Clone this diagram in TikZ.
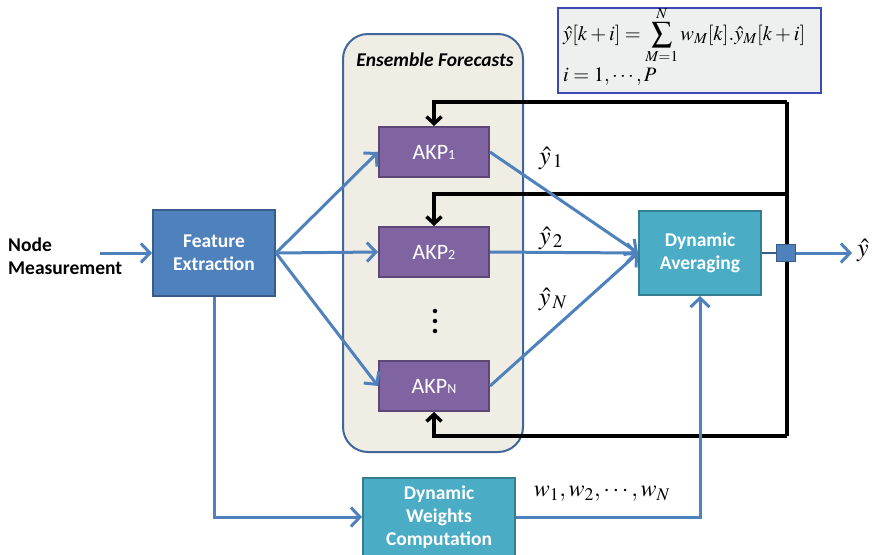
\documentclass[tikz,border=0pt]{standalone}
\usepackage{mathptmx}
\usepackage[no-math]{fontspec}
\setmainfont{Carlito}
\usetikzlibrary{arrows.meta}
\definecolor{lblue}{HTML}{4F81BD}
\definecolor{dblue}{HTML}{385D8A}
\definecolor{teal}{HTML}{4BACC6}
\definecolor{dteal}{HTML}{357D91}
\definecolor{purp}{HTML}{8064A2}
\definecolor{dpurp}{HTML}{5C4776}
\definecolor{ensfill}{HTML}{F0EDE5}
\definecolor{ensline}{HTML}{41679A}
\definecolor{fbox}{HTML}{EEF0F0}
\definecolor{fline}{HTML}{3B4BB5}
\tikzset{
  box/.style={draw, line width=2pt, inner sep=0pt, align=center, text=white,
    font=\fontsize{19.5}{23}\selectfont\bfseries},
  febox/.style={box, fill=lblue, draw=dblue, minimum width=122pt, minimum height=86pt},
  dabox/.style={box, fill=teal, draw=dteal, minimum width=122pt, minimum height=84pt},
  dwbox/.style={box, fill=teal, draw=dteal, minimum width=152pt, minimum height=78pt},
  akp/.style={draw=dpurp, fill=purp, line width=2pt, inner sep=0pt, text=white,
    minimum width=110pt, minimum height=50pt, font=\fontsize{22}{22}\selectfont},
  bar/.style={line width=3pt, draw=lblue},
  barr/.style={bar, -{Straight Barb[length=9pt,width=19pt,line width=3pt]}},
  fb/.style={line width=3.5pt, draw=black},
  fbarr/.style={fb, -{Straight Barb[length=7pt,width=15pt,line width=3.5pt]}},
  lbl/.style={inner sep=0pt, font=\fontsize{26}{26}\selectfont},
}
\newcommand{\subn}[1]{{\fontsize{14}{14}\selectfont #1}}
\begin{document}
\begin{tikzpicture}[x=1pt,y=-1pt]
\useasboundingbox (0,0) rectangle (874,554);
% formula box
\node[draw=fline, fill=fbox, line width=1.6pt, minimum width=263pt, minimum height=85pt, inner sep=0pt] (fbx) at (689.5,50.5) {};
\node[inner sep=0pt, anchor=west, font=\fontsize{20.5}{20.5}\selectfont] (f1) at (563,35) {$\displaystyle \hat{y}[k+i]=\sum_{M=1}^{N} w_M[k].\hat{y}_M[k+i]$};
\node[inner sep=0pt, anchor=base west, font=\fontsize{20.5}{20.5}\selectfont] (f2) at (563,81) {$i=1,\cdots,P$};
% ensemble container
\node[draw=ensline, fill=ensfill, line width=2pt, rounded corners=25pt, minimum width=180pt, minimum height=418pt, inner sep=0pt] (ens) at (433,243) {};
\node[inner sep=0pt, font=\fontsize{19.5}{19.5}\selectfont\bfseries\itshape] (enst) at (435,60) {Ensemble Forecasts};
% AKP boxes
\node[akp] (a1) at (434,152) {AKP\subn{1}};
\node[akp] (a2) at (434,252) {AKP\subn{2}};
\node[akp] (an) at (434,386) {AKP\subn{N}};
\node[inner sep=0pt, align=center, font=\fontsize{30}{10}\selectfont\bfseries] (dots) at (435,321) {.\\.\\.};
% main boxes
\node[febox] (fe) at (214,253) {Feature\\Extraction};
\node[dabox] (da) at (700,253) {Dynamic\\Averaging};
\node[dwbox] (dw) at (439,517) {Dynamic\\Weights\\Computation};
\node[anchor=west, align=left, inner sep=0pt, font=\fontsize{19.5}{23}\selectfont\bfseries] (nm) at (8,256) {Node\\Measurement};
\coordinate (nmend) at (100,253);
% feedback lines
\coordinate (t1) at (787,102);
\coordinate (t2) at (787,194);
\coordinate (t3) at (787,436);
\draw[fb] (t1) -- (t3);
\draw[fbarr] (t1) -| (a1.north);
\draw[fbarr] (t2) -| (a2.north);
\draw[fbarr] (t3) -| (an.south);
% junction and output
\node[draw=dblue, fill=lblue, line width=1.5pt, minimum width=19pt, minimum height=17pt, inner sep=0pt] (jn) at (786,253) {};
\draw[line width=2pt, draw=dblue] (da.east) -- (jn.west);
\coordinate (out) at (852,253);
\draw[barr] (jn.east) -- (out);
\node[lbl, anchor=west] (yout) at (857,250) {$\hat{y}$};
% blue arrows
\draw[barr] (nmend) -- (fe.west);
\draw[barr] (fe.east) -- (a1.west);
\draw[barr] (fe.east) -- (a2.west);
\draw[barr] (fe.east) -- (an.west);
\draw[barr] (a1.east) -- (da.west);
\draw[barr] (a2.east) -- (da.west);
\draw[barr] (an.east) -- (da.west);
\draw[barr] (fe.south) |- (dw.west |- 0,517);
\draw[barr] (dw.east |- 0,517) -| (da.south);
% labels
\node[lbl] (y1) at (551,158) {$\hat{y}_{\,1}$};
\node[lbl] (y2) at (551,238) {$\hat{y}_{\,2}$};
\node[lbl] (yn) at (553,299) {$\hat{y}_{\,N}$};
\node[lbl, font=\fontsize{24}{24}\selectfont] (wl) at (602,494) {$w_1, w_2, \cdots, w_N$};
\end{tikzpicture}
\end{document}
